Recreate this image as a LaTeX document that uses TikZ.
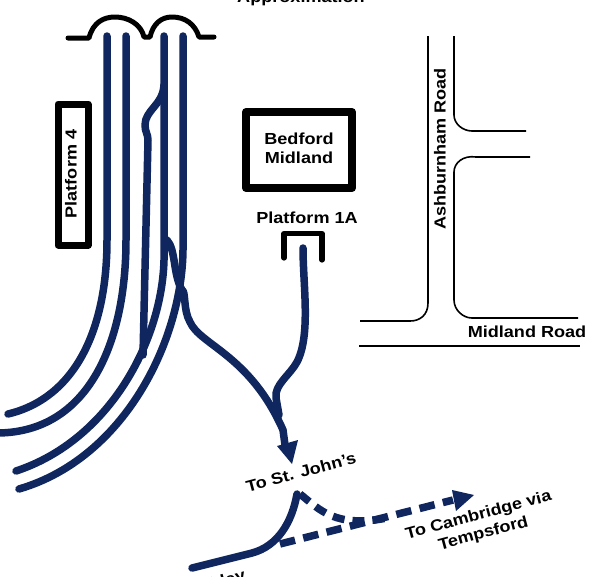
\documentclass[tikz,border=0pt]{standalone}
\usepackage{fontspec}
\setmainfont[FakeStretch=1.13]{Liberation Sans}
\definecolor{mnavy}{rgb}{0.06, 0.15, 0.37}
\tikzset{track/.style = {draw=mnavy, line width=7.5, line cap=round, line join=round}}
\tikzset{wall/.style = {draw=black, line width=5, line cap=round, line join=round}}
\tikzset{road/.style = {draw=black, line width=1.6}}
\tikzset{lbl/.style = {font=\bfseries\fontsize{16}{19}\selectfont, align=center, inner sep=0}}
\begin{document}
\begin{tikzpicture}[x=1pt, y=-1pt]
  \useasboundingbox (0, 0) rectangle (612, 576);

  % canopy over the platforms
  \draw [wall] (68, 38) -- (89, 38) .. controls (93, 22) and (104, 17) .. (115, 17)
    .. controls (128, 17) and (141, 24) .. (144, 37) -- (150, 37)
    .. controls (153, 24) and (161, 17) .. (172, 17)
    .. controls (185, 17) and (195, 24) .. (199, 37) -- (214, 37);

  % lines through the station
  \draw [track] (107, 36) -- (107, 240) .. controls (107, 330) and (75, 398) .. (8, 414);
  \draw [track] (126, 36) -- (126, 240) .. controls (126, 340) and (90, 432) .. (-2, 433);
  \draw [track] (164, 36) -- (164, 260) .. controls (162, 340) and (110, 440) .. (16, 471);
  \draw [track] (183, 36) -- (183, 250) .. controls (182, 340) and (125, 458) .. (19, 489);
  \draw [track] (164, 85) .. controls (163, 105) and (145, 110) .. (145, 125)
    .. controls (145, 132) and (148, 134) .. (148, 140) -- (143, 355);

  % towards St. John's
  \draw [track] (167, 240) .. controls (176, 250) and (173, 275) .. (182, 290)
    .. controls (186, 291) and (183, 310) .. (190, 322)
    .. controls (200, 345) and (250, 355) .. (283, 430) -- (285, 445);
  \draw [track] (303, 248) .. controls (303, 285) and (311, 335) .. (297, 362)
    .. controls (290, 375) and (274, 385) .. (276, 398) -- (279, 415);
  \fill [mnavy] (298, 440) -- (277, 446) -- (292, 464) -- cycle;

  % towards Cambridge
  \draw [track] (192, 568) -- (252, 553) .. controls (278, 546) and (292, 522) .. (297, 494);
  \draw [track, dash pattern=on 12 off 8, line cap=butt] (300, 494) .. controls (320, 510) and (335, 528) .. (387, 518);
  \draw [track, dash pattern=on 15.5 off 8.5, line cap=butt] (280, 544) -- (453, 500);
  \fill [mnavy] (452, 490) -- (474, 495) -- (456, 511) -- cycle;

  % platform and station boxes
  \draw [wall, line width=7] (58, 104) rectangle (88, 245);
  \node [lbl, rotate=90] (plat4) at (71, 174) {Platform 4};
  \draw [wall, line width=8] (246, 112) rectangle (352, 188);
  \node [lbl] (bedford) at (299, 148) {Bedford\\Midland};
  \node [lbl] (plat1a) at (307, 218) {Platform 1A};
  \draw [wall, line width=5.2] (284, 258) -- (284, 233.5) -- (322, 233.5) -- (322, 260);

  % roads
  \draw [road] (428, 36) -- (428, 303) .. controls (428, 315) and (420, 321) .. (410, 321) -- (360, 321);
  \draw [road] (454, 36) -- (454, 115) .. controls (454, 124) and (463, 131) .. (472, 131) -- (526, 131);
  \draw [road] (530, 157) -- (476, 157) .. controls (463, 155) and (454, 163) .. (454, 172) -- (454, 300)
    .. controls (454, 310) and (463, 318) .. (472, 318) -- (578, 318);
  \draw [road] (359, 346) -- (580, 346);
  \node [lbl, rotate=90] (ashburnham) at (440, 149) {Ashburnham Road};
  \node [lbl] (midland) at (527, 332) {Midland Road};

  % labels on the routes
  \node [lbl] (approx) at (301, -2) {Approximation};
  \node [lbl, rotate=15] (stjohns) at (301, 472) {To St. John’s};
  \node [lbl, rotate=15] (cambridge) at (481, 525) {To Cambridge via\\Tempsford};
  \node [lbl, rotate=15] (bletchley) at (194, 590) {To Bletchley};
\end{tikzpicture}
\end{document}
